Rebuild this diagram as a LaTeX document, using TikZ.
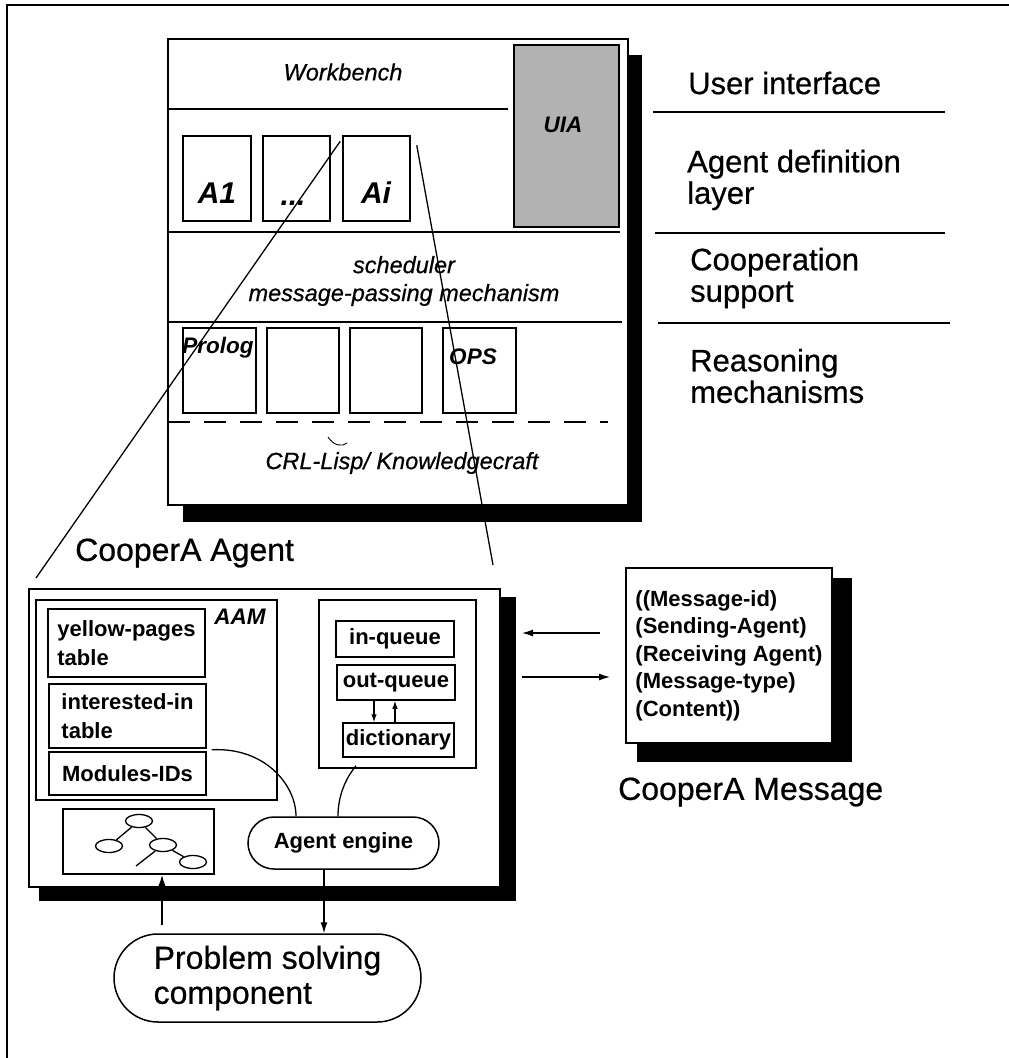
\documentclass[tikz,border=0pt]{standalone}
\usepackage{fontspec}
\setmainfont{Liberation Sans}[UprightFeatures={FakeBold=0.6},ItalicFeatures={FakeBold=0.6}]
\usetikzlibrary{arrows.meta,shapes.geometric,shapes.misc}

\newcommand\lblfont{\fontsize{31}{31.5}\selectfont}
\newcommand\bigfont{\fontsize{32}{35}\selectfont}
\newcommand\itfont{\fontsize{23.5}{28}\selectfont\itshape}
\newcommand\bifont{\fontsize{30}{32}\selectfont\bfseries\itshape}
\newcommand\bismfont{\fontsize{22.5}{26}\selectfont\bfseries\itshape}
\newcommand\smfont{\fontsize{22}{29}\selectfont\bfseries}
\newcommand\msgfont{\fontsize{22}{27.5}\selectfont\bfseries}

\tikzset{
  frame/.style={line width=1.8},
  box/.style={draw,line width=1.5,fill=white,inner sep=0},
  shadow/.style={fill=black,draw=none},
  rule/.style={line width=1.4},
  link/.style={line width=1.3},
  arr/.style={line width=1.3,-{Latex[length=11pt,width=7pt]}},
  sarr/.style={line width=1.2,-{Latex[length=8pt,width=5.5pt]}},
  lbl/.style={inner sep=0,font=\lblfont,align=left,anchor=west},
  itx/.style={inner sep=0,font=\itfont,align=center},
  bix/.style={inner sep=0,font=\bifont},
  bism/.style={inner sep=0,font=\bismfont},
  pill/.style={draw,line width=1.5,fill=white,rounded rectangle,inner sep=0},
  leaf/.style={draw,ellipse,line width=1.3,minimum width=27,minimum height=13,inner sep=0}
}

\begin{document}
\begin{tikzpicture}[x=1pt,y=-1pt]
\useasboundingbox (0,0) rectangle (1009,1058);

% page frame
\draw[frame] (7,1058) -- (7,5) -- (1009,5);

% ---------- layered architecture stack ----------
\fill[shadow] (183,55) rectangle (642,522);
\node[box,minimum width=460,minimum height=466] (stack) at (398,272) {};

\node[itx] (wb) at (343,72) {Workbench};
\draw[rule] (168,109) -- (508,109);

\node[box,fill=black!30,minimum width=105,minimum height=182] (uia) at (566.5,136) {};
\node[bism] (uiat) at (563,125) {UIA};

\node[box,minimum width=68,minimum height=85] (a1) at (217,178.5) {};
\node[box,minimum width=67,minimum height=85] (adots) at (296.5,178.5) {};
\node[box,minimum width=67,minimum height=85] (ai) at (376.5,178.5) {};
\node[bix] (a1t) at (217,193) {A1};
\node[bix] (adt) at (293,203) {...};
\node[bix] (ait) at (376,193) {Ai};
\draw[rule] (168,232) -- (620,232);

\node[itx] (sched) at (404,281) {scheduler\\message-passing mechanism};
\draw[rule] (168,322) -- (622,322);

\node[box,minimum width=73,minimum height=85] (r1) at (219.5,370.5) {};
\node[box,minimum width=72,minimum height=85] (r2) at (303,370.5) {};
\node[box,minimum width=72,minimum height=85] (r3) at (386,370.5) {};
\node[box,minimum width=73,minimum height=85] (r4) at (479.5,370.5) {};
\node[bism] (prolog) at (218,348) {Prolog};
\node[bism] (ops) at (473,357) {OPS};
\draw[rule,dash pattern=on 22pt off 14pt] (168,422) -- (608,422);
\draw[line width=0.9] (328,437) .. controls (334,446) and (342,447) .. (347,443);
\node[itx] (crl) at (402,463) {CRL-Lisp/ Knowledgecraft};

% ---------- layer names ----------
\node[lbl] (ui) at (688,83) {User interface};
\draw[rule] (653,112) -- (945,112);
\node[lbl] (adl) at (687,180) {Agent definition\\layer};
\draw[rule] (655,233) -- (945,233);
\node[lbl] (coop) at (690,278) {Cooperation\\support};
\draw[rule] (658,323) -- (950,323);
\node[lbl] (reas) at (690,376) {Reasoning\\mechanisms};

% ---------- CooperA agent ----------
\node[inner sep=0,font=\bigfont,anchor=west] (agtitle) at (75,553) {CooperA Agent};
\fill[shadow] (39,597) rectangle (516,901);
\node[box,minimum width=471,minimum height=298] (agent) at (264.5,738) {};

\node[box,minimum width=241,minimum height=200] (aam) at (156.5,700) {};
\node[bism] (aamt) at (240,617) {AAM};
\node[box,minimum width=157,minimum height=68,font=\smfont,align=left] (yp) at (126.5,643) {yellow-pages\\table};
\node[box,minimum width=157,minimum height=64,font=\smfont,align=left] (intr) at (127.5,716) {interested-in\\table};
\node[box,minimum width=157,minimum height=43,font=\smfont] (mods) at (127.5,773.5) {Modules-IDs};

\node[box,minimum width=157,minimum height=168] (queue) at (397.5,684) {};
\node[box,minimum width=118,minimum height=36,font=\smfont] (inq) at (395,639) {in-queue};
\node[box,minimum width=118,minimum height=35,font=\smfont] (outq) at (396,682.5) {out-queue};
\node[box,minimum width=111,minimum height=34,font=\smfont] (dict) at (398.5,740) {dictionary};
\draw[sarr] (outq.south -| 374,0) -- (dict.north -| 374,0);
\draw[sarr] (dict.north -| 395,0) -- (outq.south -| 395,0);

\node[box,minimum width=151,minimum height=65] (tree) at (138.5,841.5) {};
\node[leaf] (n1) at (139,821) {};
\node[leaf] (n2) at (109,846) {};
\node[leaf] (n3) at (163,845) {};
\node[leaf] (n4) at (193,862) {};
\coordinate (nb) at (136,866);
\draw[link] (n1) -- (n2);
\draw[link] (n1) -- (n3);
\draw[link] (n3) -- (n4);
\draw[link] (n3) -- (nb);

\node[pill,minimum width=191,minimum height=52,font=\smfont] (engine) at (343.5,843) {Agent engine};
\draw[link] ([xshift=5,yshift=-1]intr.south east) .. controls (265,747) and (296,785) .. (engine.north -| 296,0);
\draw[link] ([yshift=3]queue.south -| 356,0) .. controls (346,778) and (338,795) .. (engine.north -| 338,0);

% ---------- problem solving ----------
\node[pill,minimum width=307,minimum height=88,font=\bigfont,align=left] (ps) at (267.5,978) {Problem solving\\component};
\draw[arr] (engine.south -| 324,0) -- (ps.north -| 324,0);
\coordinate (psup) at (162,925);
\draw[arr] (psup) -- (tree.south -| psup);

% ---------- CooperA message ----------
\fill[shadow] (637,578) rectangle (852,762);
\node[box,minimum width=206,minimum height=175,font=\msgfont,align=left] (msg) at (729,655.5)
  {((Message-id)\\(Sending-Agent)\\(Receiving Agent)\\(Message-type)\\(Content))};
\node[inner sep=0,font=\bigfont,anchor=west] (msgtitle) at (618,792) {CooperA Message};

\coordinate (inS) at (600,633);
\coordinate (inE) at (522,633);
\coordinate (outS) at (522,677);
\coordinate (outE) at (610,677);
\draw[arr] (inS) -- (inE);
\draw[arr] (outS) -- (outE);

% ---------- zoom lines from agent Ai ----------
\coordinate (zl) at (36,578);
\coordinate (zr) at (493,565);
\draw[link] ([shift={(-2,6)}]ai.north west) -- (zl);
\draw[link] ([shift={(6,10)}]ai.north east) -- (zr);
\end{tikzpicture}
\end{document}
